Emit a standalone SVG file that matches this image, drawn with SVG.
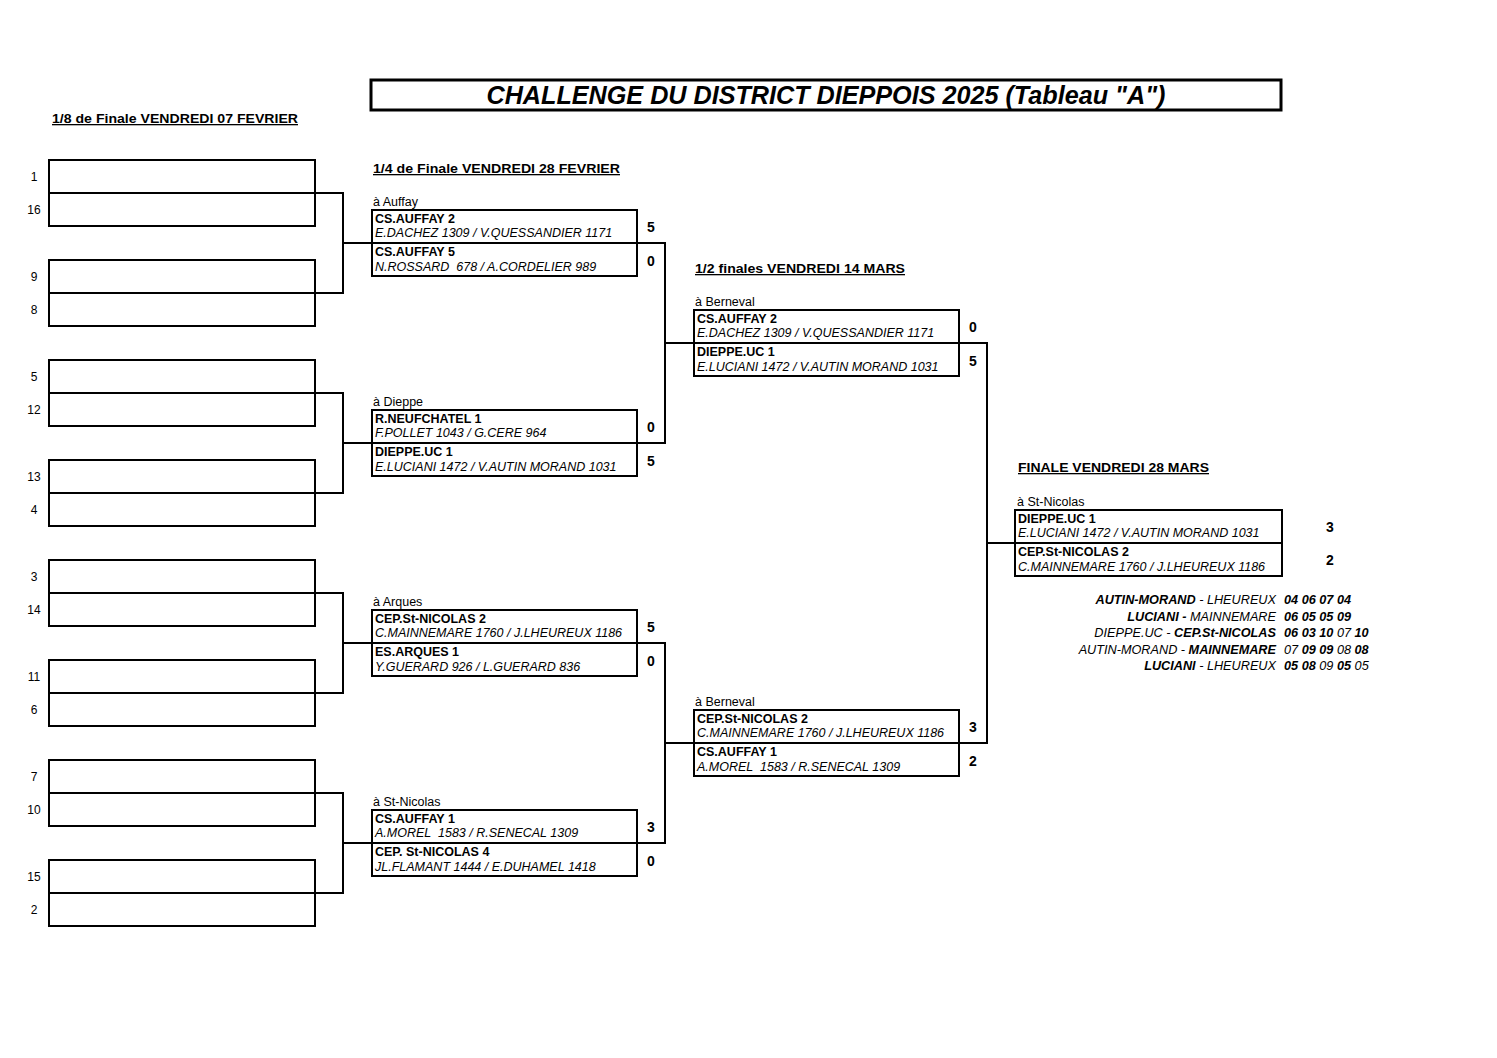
<svg xmlns="http://www.w3.org/2000/svg" width="1497" height="1058" viewBox="0 0 1497 1058">
<style>
text{font-family:"Liberation Sans",Arial,sans-serif;fill:#000;white-space:pre}
.box{fill:none;stroke:#000;stroke-width:2}
.div{stroke:#000;stroke-width:2}
.conn{fill:none;stroke:#000;stroke-width:2}
.team{font-size:12.5px;font-weight:bold}
.pl{font-size:12.5px;font-style:italic}
.venue{font-size:12.5px}
.score{font-size:14px;font-weight:bold;text-anchor:middle}
.seed{font-size:12px;text-anchor:middle}
.head{font-size:13px;font-weight:bold;text-decoration:underline}
.tbl{font-size:12.7px;font-style:italic}
.b{font-weight:bold}
</style>
<rect width="1497" height="1058" fill="#fff"/>
<g id="title">
<rect x="371" y="80" width="910" height="30" fill="none" stroke="#000" stroke-width="3"/>
<text x="826" y="104" text-anchor="middle" font-size="26" font-weight="bold" font-style="italic" textLength="679" lengthAdjust="spacingAndGlyphs">CHALLENGE DU DISTRICT DIEPPOIS 2025 (Tableau "A")</text>
</g>
<g id="headings">
<text class="head" x="52" y="123" textLength="246" lengthAdjust="spacingAndGlyphs">1/8 de Finale VENDREDI 07 FEVRIER</text>
<text class="head" x="373" y="173" textLength="247" lengthAdjust="spacingAndGlyphs">1/4 de Finale VENDREDI 28 FEVRIER</text>
<text class="head" x="695" y="273" textLength="210" lengthAdjust="spacingAndGlyphs">1/2 finales VENDREDI 14 MARS</text>
<text class="head" x="1018" y="472" textLength="191" lengthAdjust="spacingAndGlyphs">FINALE VENDREDI 28 MARS</text>
</g>
<g id="connectors">
<path class="conn" d="M315 193H343V293H315M343 243H665"/>
<path class="conn" d="M315 393H343V493H315M343 443H665"/>
<path class="conn" d="M315 593H343V693H315M343 643H665"/>
<path class="conn" d="M315 793H343V893H315M343 843H665"/>
<path class="conn" d="M637 243H665V443H637M665 343H987"/>
<path class="conn" d="M637 643H665V843H637M665 743H987"/>
<path class="conn" d="M959 343H987V743H959M987 543H1015"/>
</g>
<g id="r16-1"><rect class="box" x="49" y="160" width="266" height="66"/><line class="div" x1="49" y1="193" x2="315" y2="193"/><text class="seed" x="34" y="181">1</text><text class="seed" x="34" y="214">16</text></g>
<g id="r16-2"><rect class="box" x="49" y="260" width="266" height="66"/><line class="div" x1="49" y1="293" x2="315" y2="293"/><text class="seed" x="34" y="281">9</text><text class="seed" x="34" y="314">8</text></g>
<g id="r16-3"><rect class="box" x="49" y="360" width="266" height="66"/><line class="div" x1="49" y1="393" x2="315" y2="393"/><text class="seed" x="34" y="381">5</text><text class="seed" x="34" y="414">12</text></g>
<g id="r16-4"><rect class="box" x="49" y="460" width="266" height="66"/><line class="div" x1="49" y1="493" x2="315" y2="493"/><text class="seed" x="34" y="481">13</text><text class="seed" x="34" y="514">4</text></g>
<g id="r16-5"><rect class="box" x="49" y="560" width="266" height="66"/><line class="div" x1="49" y1="593" x2="315" y2="593"/><text class="seed" x="34" y="581">3</text><text class="seed" x="34" y="614">14</text></g>
<g id="r16-6"><rect class="box" x="49" y="660" width="266" height="66"/><line class="div" x1="49" y1="693" x2="315" y2="693"/><text class="seed" x="34" y="681">11</text><text class="seed" x="34" y="714">6</text></g>
<g id="r16-7"><rect class="box" x="49" y="760" width="266" height="66"/><line class="div" x1="49" y1="793" x2="315" y2="793"/><text class="seed" x="34" y="781">7</text><text class="seed" x="34" y="814">10</text></g>
<g id="r16-8"><rect class="box" x="49" y="860" width="266" height="66"/><line class="div" x1="49" y1="893" x2="315" y2="893"/><text class="seed" x="34" y="881">15</text><text class="seed" x="34" y="914">2</text></g>
<g id="qf-1">
<text class="venue" x="373" y="206">à Auffay</text>
<rect class="box" x="372" y="210" width="265" height="66"/><line class="div" x1="372" y1="243" x2="637" y2="243"/>
<text class="team" x="375" y="223">CS.AUFFAY 2</text><text class="pl" x="375" y="237">E.DACHEZ 1309 / V.QUESSANDIER 1171</text>
<text class="team" x="375" y="256">CS.AUFFAY 5</text><text class="pl" x="375" y="271">N.ROSSARD  678 / A.CORDELIER 989</text>
<text class="score" x="651" y="232">5</text><text class="score" x="651" y="266">0</text>
</g>
<g id="qf-2">
<text class="venue" x="373" y="406">à Dieppe</text>
<rect class="box" x="372" y="410" width="265" height="66"/><line class="div" x1="372" y1="443" x2="637" y2="443"/>
<text class="team" x="375" y="423">R.NEUFCHATEL 1</text><text class="pl" x="375" y="437">F.POLLET 1043 / G.CERE 964</text>
<text class="team" x="375" y="456">DIEPPE.UC 1</text><text class="pl" x="375" y="471">E.LUCIANI 1472 / V.AUTIN MORAND 1031</text>
<text class="score" x="651" y="432">0</text><text class="score" x="651" y="466">5</text>
</g>
<g id="qf-3">
<text class="venue" x="373" y="606">à Arques</text>
<rect class="box" x="372" y="610" width="265" height="66"/><line class="div" x1="372" y1="643" x2="637" y2="643"/>
<text class="team" x="375" y="623">CEP.St-NICOLAS 2</text><text class="pl" x="375" y="637">C.MAINNEMARE 1760 / J.LHEUREUX 1186</text>
<text class="team" x="375" y="656">ES.ARQUES 1</text><text class="pl" x="375" y="671">Y.GUERARD 926 / L.GUERARD 836</text>
<text class="score" x="651" y="632">5</text><text class="score" x="651" y="666">0</text>
</g>
<g id="qf-4">
<text class="venue" x="373" y="806">à St-Nicolas</text>
<rect class="box" x="372" y="810" width="265" height="66"/><line class="div" x1="372" y1="843" x2="637" y2="843"/>
<text class="team" x="375" y="823">CS.AUFFAY 1</text><text class="pl" x="375" y="837">A.MOREL  1583 / R.SENECAL 1309</text>
<text class="team" x="375" y="856">CEP. St-NICOLAS 4</text><text class="pl" x="375" y="871">JL.FLAMANT 1444 / E.DUHAMEL 1418</text>
<text class="score" x="651" y="832">3</text><text class="score" x="651" y="866">0</text>
</g>
<g id="sf-1">
<text class="venue" x="695" y="306">à Berneval</text>
<rect class="box" x="694" y="310" width="265" height="66"/><line class="div" x1="694" y1="343" x2="959" y2="343"/>
<text class="team" x="697" y="323">CS.AUFFAY 2</text><text class="pl" x="697" y="337">E.DACHEZ 1309 / V.QUESSANDIER 1171</text>
<text class="team" x="697" y="356">DIEPPE.UC 1</text><text class="pl" x="697" y="371">E.LUCIANI 1472 / V.AUTIN MORAND 1031</text>
<text class="score" x="973" y="332">0</text><text class="score" x="973" y="366">5</text>
</g>
<g id="sf-2">
<text class="venue" x="695" y="706">à Berneval</text>
<rect class="box" x="694" y="710" width="265" height="66"/><line class="div" x1="694" y1="743" x2="959" y2="743"/>
<text class="team" x="697" y="723">CEP.St-NICOLAS 2</text><text class="pl" x="697" y="737">C.MAINNEMARE 1760 / J.LHEUREUX 1186</text>
<text class="team" x="697" y="756">CS.AUFFAY 1</text><text class="pl" x="697" y="771">A.MOREL  1583 / R.SENECAL 1309</text>
<text class="score" x="973" y="732">3</text><text class="score" x="973" y="766">2</text>
</g>
<g id="final">
<text class="venue" x="1017" y="506">à St-Nicolas</text>
<rect class="box" x="1015" y="510" width="267" height="66"/><line class="div" x1="1015" y1="543" x2="1282" y2="543"/>
<text class="team" x="1018" y="523">DIEPPE.UC 1</text><text class="pl" x="1018" y="537">E.LUCIANI 1472 / V.AUTIN MORAND 1031</text>
<text class="team" x="1018" y="556">CEP.St-NICOLAS 2</text><text class="pl" x="1018" y="571">C.MAINNEMARE 1760 / J.LHEUREUX 1186</text>
<text class="score" x="1330" y="532">3</text><text class="score" x="1330" y="565">2</text>
</g>
<g id="final-detail">
<text class="tbl" x="1276" y="604" text-anchor="end"><tspan class="b">AUTIN-MORAND</tspan> - LHEUREUX</text>
<text class="tbl b" x="1284" y="604">04 06 07 04</text>
<text class="tbl" x="1276" y="620.5" text-anchor="end"><tspan class="b">LUCIANI - </tspan>MAINNEMARE</text>
<text class="tbl b" x="1284" y="620.5">06 05 05 09</text>
<text class="tbl" x="1276" y="637" text-anchor="end">DIEPPE.UC - <tspan class="b">CEP.St-NICOLAS</tspan></text>
<text class="tbl" x="1284" y="637"><tspan class="b">06 03 10</tspan> 07 <tspan class="b">10</tspan></text>
<text class="tbl" x="1276" y="653.5" text-anchor="end">AUTIN-MORAND - <tspan class="b">MAINNEMARE</tspan></text>
<text class="tbl" x="1284" y="653.5">07 <tspan class="b">09 09</tspan> 08 <tspan class="b">08</tspan></text>
<text class="tbl" x="1276" y="670" text-anchor="end"><tspan class="b">LUCIANI</tspan> - LHEUREUX</text>
<text class="tbl" x="1284" y="670"><tspan class="b">05 08</tspan> 09 <tspan class="b">05</tspan> 05</text>
</g>
</svg>
